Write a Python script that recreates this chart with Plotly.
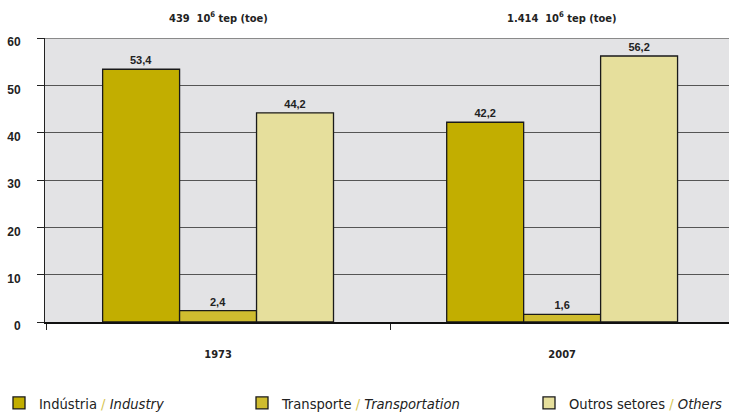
import plotly.graph_objects as go

years = ["1973", "2007"]
totals = ["439", "1.414"]
industria = [53.4, 42.2]
transporte = [2.4, 1.6]
outros = [44.2, 56.2]
series_names = [
    "Indústria <span style='color:#d6c452'>/</span> <i>Industry</i>",
    "Transporte <span style='color:#d6c452'>/</span> <i>Transportation</i>",
    "Outros setores <span style='color:#d6c452'>/</span> <i>Others</i>",
]
colors = ["#c2ae00", "#cfbc2f", "#e6df9c"]
y_ticks = [0, 10, 20, 30, 40, 50, 60]

def fmt(v):
    return f"<b>{v:.1f}</b>".replace(".", ",")

fig = go.Figure()
legends = ["legend", "legend2", "legend3"]
for name, vals, col, lg in zip(series_names, [industria, transporte, outros], colors, legends):
    fig.add_trace(go.Bar(
        x=years, y=vals, name=name, marker=dict(color=col, line=dict(color="#1a1a1a", width=1.3)),
        text=[fmt(v) for v in vals], textposition="outside", cliponaxis=False,
        textfont=dict(family="Liberation Sans", size=11, color="#222222"),
        legend=lg,
    ))

for i, tot in enumerate(totals):
    fig.add_annotation(x=i, xref="x", y=1.0, yref="paper", yshift=21, yanchor="middle",
                       text=f"<b>{tot}  10<sup>6</sup> tep (toe)</b>", showarrow=False,
                       font=dict(family="DejaVu Sans Condensed, Liberation Sans", size=11, color="#222"))

leg_font = dict(family="DejaVu Sans Condensed, Liberation Sans", size=14.6, color="#222")
common = dict(orientation="h", y=-0.285, yanchor="middle", xanchor="left", bgcolor="rgba(0,0,0,0)",
              font=leg_font, itemwidth=30, tracegroupgap=0)

fig.update_layout(
    width=729, height=413,
    margin=dict(l=45, r=0, t=38, b=91, autoexpand=False),
    paper_bgcolor="white", plot_bgcolor="#e3e3e5",
    barmode="group", bargap=0.329, bargroupgap=0,
    showlegend=True,
    legend=dict(x=(-1 - 45) / 684, **common),
    legend2=dict(x=(242 - 45) / 684, **common),
    legend3=dict(x=(529 - 45) / 684, **common),
    font=dict(family="Liberation Sans", size=11, color="#222"),
    xaxis=dict(type="category", range=[-0.503, 1.485], tickson="boundaries", ticks="outside", ticklen=6,
               tickcolor="#222", showline=True, linecolor="#111", linewidth=1.5, showgrid=False,
               tickfont=dict(family="DejaVu Sans Condensed, Liberation Sans", size=11, color="#222", weight="bold"),
               tickangle=0, ticklabelstandoff=21),
    yaxis=dict(range=[0, 60], tickvals=y_ticks, ticks="outside", ticklen=7, tickcolor="#222",
               showline=True, linecolor="#222", linewidth=1,
               showgrid=True, gridcolor="#555555", gridwidth=1, zeroline=False,
               tickfont=dict(family="Liberation Sans", size=12, color="#222", weight="bold"),
               ticklabelstandoff=14, ticklabelshift=4),
)
fig.add_shape(type="line", xref="paper", yref="y", x0=0, x1=1, y0=60, y1=60,
              line=dict(color="#8a8a8a", width=2))

fig.write_html("out.html", config={"displayModeBar": False},
               post_script="document.body.style.margin='0';document.body.style.padding='0';")
